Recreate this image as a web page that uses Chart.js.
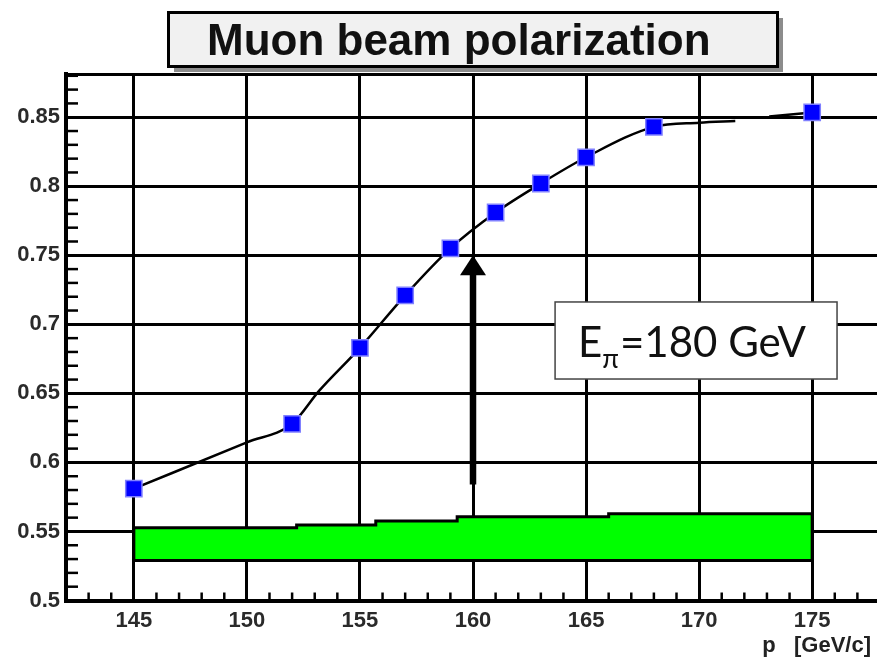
<!DOCTYPE html>
<html>
<head>
<meta charset="utf-8">
<title>Muon beam polarization</title>
<script src="https://cdn.jsdelivr.net/npm/chart.js@4.4.0/dist/chart.umd.min.js"></script>
<style>
  html, body { margin: 0; padding: 0; background: #fff; overflow: hidden; }
  canvas { display: block; }
</style>
</head>
<body>
<canvas id="grafico" width="882" height="660"></canvas>
<script>
// measured polarization vs. muon momentum
const momentum = [145, 152, 155, 157, 159, 161, 163, 165, 168, 175];
const polarization = [0.581, 0.628, 0.683, 0.721, 0.755, 0.781, 0.802, 0.821, 0.843, 0.8535];

// fitted curve, broken just before the last point
const curveP = [145, 150, 152, 153.2, 155, 157, 159, 161, 163, 165, 168, 170, 171.6, 172.4, 173.1, 175];
const curvePol = [0.581, 0.6145, 0.628, 0.652, 0.683, 0.721, 0.755, 0.781, 0.802, 0.821, 0.843, 0.846, 0.8472, null, 0.8505, 0.8535];

// green band: step edges, upper level of each step, common lower level
const bandEdges = [145, 152.2, 155.7, 159.3, 166, 175];
const bandTop = [0.5527, 0.5547, 0.5576, 0.5607, 0.5629];
const bandBottom = 0.529;

// axes
const xMin = 142, xMax = 178;
const yMin = 0.5, yMax = 0.8813;
const xTicks = [145, 150, 155, 160, 165, 170, 175];
const xTickLabels = ["145", "150", "155", "160", "165", "170", "175"];
const yTicks = [0.5, 0.55, 0.6, 0.65, 0.7, 0.75, 0.8, 0.85];
const yTickLabels = ["0.5", "0.55", "0.6", "0.65", "0.7", "0.75", "0.8", "0.85"];

// arrow at the nominal momentum and the beam energy box
const arrowP = 160, arrowFrom = 0.584, arrowTo = 0.750;
const beamBox = { pFrom: 163.63, pTo: 176.1, polTop: 0.7162, polBottom: 0.6604 };

const bandShape = [{ x: bandEdges[0], y: bandBottom }];
bandTop.forEach((v, i) => {
  bandShape.push({ x: bandEdges[i], y: v }, { x: bandEdges[i + 1], y: v });
});
bandShape.push({ x: bandEdges[bandEdges.length - 1], y: bandBottom }, { x: bandEdges[0], y: bandBottom });

const decor = {
  id: "decor",
  afterDraw(chart) {
    const ctx = chart.ctx;
    const a = chart.chartArea;
    const xs = chart.scales.x, ys = chart.scales.y;
    ctx.save();

    // top frame
    ctx.strokeStyle = "#000";
    ctx.lineWidth = 3;
    ctx.beginPath();
    ctx.moveTo(a.left, a.top + 0.5);
    ctx.lineTo(a.right, a.top + 0.5);
    ctx.stroke();

    // minor ticks, drawn inside the frame
    ctx.lineWidth = 2.5;
    for (let p = Math.ceil(xMin) + 1; p < xMax; p++) {
      if (p % 5 === 0) continue;
      const px = xs.getPixelForValue(p);
      ctx.beginPath();
      ctx.moveTo(px, a.bottom);
      ctx.lineTo(px, a.bottom - 8);
      ctx.stroke();
    }
    for (let k = 51; k <= 88; k++) {
      if (k % 5 === 0) continue;
      const py = ys.getPixelForValue(k / 100);
      ctx.beginPath();
      ctx.moveTo(a.left, py);
      ctx.lineTo(a.left + 12, py);
      ctx.stroke();
    }

    // arrow
    const ax = xs.getPixelForValue(arrowP);
    const y0 = ys.getPixelForValue(arrowFrom);
    const y1 = ys.getPixelForValue(arrowTo);
    ctx.fillStyle = "#000";
    ctx.lineWidth = 6.5;
    ctx.beginPath();
    ctx.moveTo(ax, y0);
    ctx.lineTo(ax, y1 + 18);
    ctx.stroke();
    ctx.beginPath();
    ctx.moveTo(ax, y1);
    ctx.lineTo(ax - 13, y1 + 20);
    ctx.lineTo(ax + 13, y1 + 20);
    ctx.closePath();
    ctx.fill();

    // beam energy box
    const bx0 = xs.getPixelForValue(beamBox.pFrom);
    const bx1 = xs.getPixelForValue(beamBox.pTo);
    const by0 = ys.getPixelForValue(beamBox.polTop);
    const by1 = ys.getPixelForValue(beamBox.polBottom);
    ctx.fillStyle = "#fff";
    ctx.fillRect(bx0, by0, bx1 - bx0, by1 - by0);
    ctx.strokeStyle = "#444";
    ctx.lineWidth = 1.5;
    ctx.strokeRect(bx0, by0, bx1 - bx0, by1 - by0);
    ctx.fillStyle = "#111";
    ctx.textAlign = "left";
    ctx.textBaseline = "alphabetic";
    let tx = bx0 + 23;
    const base = by0 + 55;
    ctx.font = "42px Lato";
    ctx.fillText("E", tx, base);
    tx += ctx.measureText("E").width;
    ctx.font = "27px Lato";
    ctx.fillText("\u03c0", tx, base + 11);
    tx += ctx.measureText("\u03c0").width + 1;
    ctx.font = "42px Lato";
    ctx.fillText("=180 GeV", tx, base);

    // title box with shadow
    ctx.fillStyle = "#8c8c8c";
    ctx.fillRect(174, 66, 609, 6);
    ctx.fillRect(778, 18, 5, 54);
    ctx.fillStyle = "#f1f1f1";
    ctx.fillRect(168.5, 12.5, 609, 54);
    ctx.strokeStyle = "#000";
    ctx.lineWidth = 3;
    ctx.strokeRect(168.5, 12.5, 609, 54);
    ctx.fillStyle = "#111";
    ctx.font = "bold 44px 'Liberation Sans'";
    ctx.fillText("Muon beam polarization", 207, 55);

    // x axis title
    ctx.fillStyle = "#222";
    ctx.font = "bold 22px 'Liberation Sans'";
    ctx.textAlign = "right";
    ctx.fillText("p   [GeV/c]", 871, 652);

    ctx.restore();
  }
};

const tickFont = { family: "'Liberation Sans'", size: 22, weight: "bold" };

new Chart(document.getElementById("grafico").getContext("2d"), {
  type: "scatter",
  data: {
    datasets: [
      {
        label: "Polarization",
        data: momentum.map((p, i) => ({ x: p, y: polarization[i] })),
        pointStyle: "rect",
        pointRadius: 11.5,
        pointHoverRadius: 11.5,
        backgroundColor: "#0000ff",
        borderColor: "#8080ff",
        borderWidth: 1.5,
        showLine: false,
        order: 0
      },
      {
        label: "Fit",
        data: curveP.map((p, i) => ({ x: p, y: curvePol[i] })),
        showLine: true,
        borderColor: "#000",
        borderWidth: 2.5,
        pointRadius: 0,
        cubicInterpolationMode: "monotone",
        spanGaps: false,
        order: 1
      },
      {
        label: "Band",
        data: bandShape,
        showLine: true,
        borderColor: "#000",
        borderWidth: 3,
        backgroundColor: "#00ff00",
        fill: "shape",
        pointRadius: 0,
        tension: 0,
        order: 2
      }
    ]
  },
  options: {
    responsive: false,
    animation: false,
    devicePixelRatio: 1,
    layout: { autoPadding: false, padding: { top: 74, right: 2, left: 0, bottom: 0 } },
    plugins: {
      legend: { display: false },
      title: { display: false },
      tooltip: { enabled: false }
    },
    scales: {
      x: {
        type: "linear",
        min: xMin,
        max: xMax,
        afterBuildTicks: (scale) => { scale.ticks = xTicks.map((v) => ({ value: v })); },
        afterFit: (scale) => {
          scale.height = 59.5;
          scale.paddingLeft = 0;
          scale.paddingRight = 0;
        },
        grid: { color: "#000", lineWidth: 3, drawTicks: false },
        border: { display: true, color: "#000", width: 4 },
        ticks: {
          autoSkip: false,
          maxRotation: 0,
          padding: 7,
          color: "#2a2a2a",
          font: tickFont,
          callback: (v, i) => xTickLabels[i]
        }
      },
      y: {
        type: "linear",
        min: yMin,
        max: yMax,
        afterBuildTicks: (scale) => { scale.ticks = yTicks.map((v) => ({ value: v })); },
        afterFit: (scale) => {
          scale.width = 66;
          scale.paddingTop = 0;
          scale.paddingBottom = 0;
        },
        grid: { color: "#000", lineWidth: 3, drawTicks: false },
        border: { display: true, color: "#000", width: 4 },
        ticks: {
          autoSkip: false,
          padding: 6,
          color: "#2a2a2a",
          font: tickFont,
          callback: (v, i) => yTickLabels[i]
        }
      }
    }
  },
  plugins: [decor]
});
</script>
</body>
</html>
